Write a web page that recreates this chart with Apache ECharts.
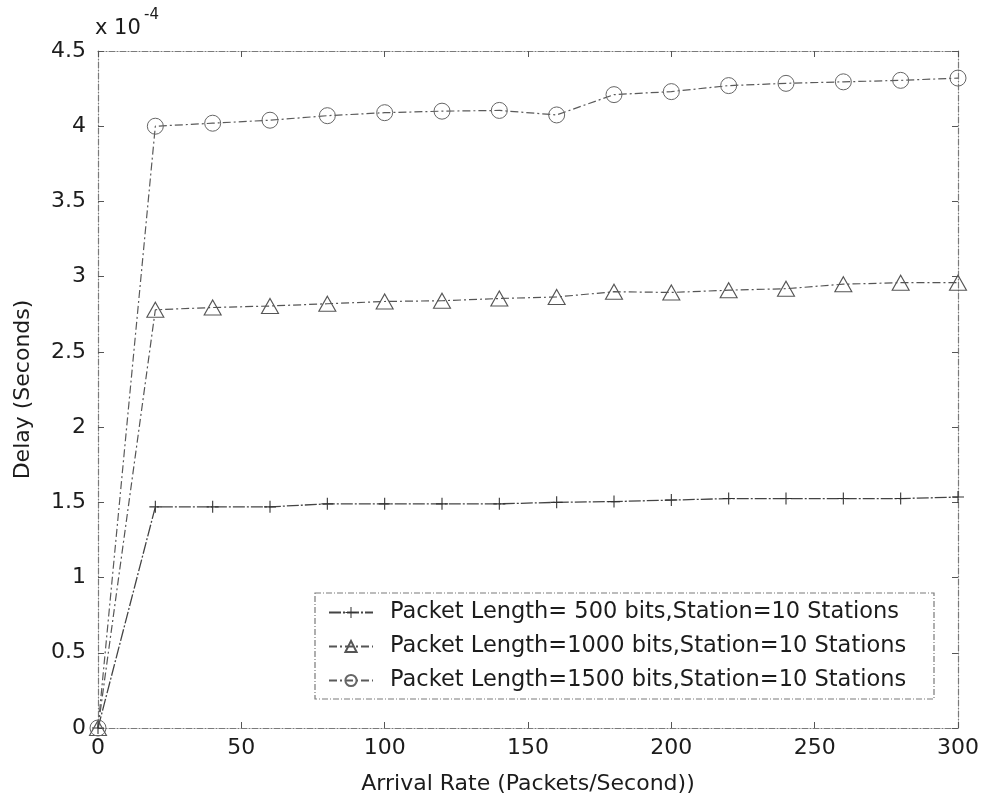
<!DOCTYPE html>
<html>
<head>
<meta charset="utf-8">
<script src="https://cdn.jsdelivr.net/npm/echarts@6/dist/echarts.min.js"></script>
<style>
  html, body { margin: 0; padding: 0; background: #fff; }
  #chart { width: 987px; height: 797px; }
</style>
</head>
<body>
<div id="chart"></div>
<script>
// Arrival rate (packets/second)
const arrivalRate = [0, 20, 40, 60, 80, 100, 120, 140, 160, 180, 200, 220, 240, 260, 280, 300];

// Delay in units of 1e-4 seconds
const delay500 = [0, 1.47, 1.47, 1.47, 1.49, 1.49, 1.49, 1.49, 1.50, 1.505, 1.515, 1.525, 1.525, 1.525, 1.525, 1.535];
const delay1000 = [0, 2.78, 2.795, 2.805, 2.82, 2.835, 2.84, 2.855, 2.865, 2.90, 2.895, 2.91, 2.92, 2.95, 2.96, 2.96];
const delay1500 = [0, 4.00, 4.02, 4.04, 4.07, 4.09, 4.10, 4.105, 4.075, 4.21, 4.23, 4.27, 4.285, 4.295, 4.305, 4.32];

const seriesNames = [
  'Packet Length= 500 bits,Station=10 Stations',
  'Packet Length=1000 bits,Station=10 Stations',
  'Packet Length=1500 bits,Station=10 Stations'
];

const xTicks = { min: 0, max: 300, interval: 50 };
const yTicks = { min: 0, max: 4.5, interval: 0.5 };

const FONT = '"DejaVu Sans", "Liberation Sans", Arial, sans-serif';
const INK = '#1c1c1c';
const FRAME = '#7a7a7a';

const pairs = ys => arrivalRate.map((x, i) => [x, ys[i]]);

const frameLine = { show: true, onZero: false, lineStyle: { color: FRAME, width: 1.2, type: [6, 2, 1, 2] } };
const innerTick = { show: true, inside: true, length: 6, lineStyle: { color: '#555', width: 1 } };
const tickLabel = { fontSize: 22, color: INK, fontFamily: FONT };

const chart = echarts.init(document.getElementById('chart'), null, { renderer: 'canvas' });

chart.setOption({
  animation: false,
  backgroundColor: '#ffffff',
  grid: { left: 98, right: 29, top: 51, bottom: 69, containLabel: false, outerBoundsMode: 'none' },
  xAxis: [
    {
      type: 'value', ...xTicks, position: 'bottom',
      axisLine: frameLine, axisTick: innerTick,
      axisLabel: { ...tickLabel, margin: 9 },
      splitLine: { show: false },
      name: 'Arrival Rate (Packets/Second))', nameLocation: 'middle', nameGap: 45,
      nameTextStyle: { fontSize: 22, color: INK, fontFamily: FONT }
    },
    {
      type: 'value', ...xTicks, position: 'top',
      axisLine: frameLine, axisTick: innerTick,
      axisLabel: { show: false }, splitLine: { show: false }
    }
  ],
  yAxis: [
    {
      type: 'value', ...yTicks, position: 'left',
      axisLine: frameLine, axisTick: innerTick,
      axisLabel: { ...tickLabel, margin: 12 },
      splitLine: { show: false },
      name: 'Delay (Seconds)', nameLocation: 'middle', nameGap: 64, nameRotate: 90,
      nameTextStyle: { fontSize: 22, color: INK, fontFamily: FONT }
    },
    {
      type: 'value', ...yTicks, position: 'right',
      axisLine: frameLine, axisTick: innerTick,
      axisLabel: { show: false }, splitLine: { show: false }
    }
  ],
  legend: {
    orient: 'vertical',
    left: 328, top: 601,
    itemWidth: 44, itemHeight: 14, itemGap: 11,
    padding: 0,
    textStyle: { fontSize: 22.5, color: INK, fontFamily: FONT, padding: [0, 0, 0, 12] },
    data: seriesNames,
    z: 5
  },
  graphic: [
    {
      type: 'rect', z: 3,
      shape: { x: 315, y: 593, width: 619, height: 106 },
      style: { fill: '#ffffff', stroke: FRAME, lineWidth: 1.2, lineDash: [6, 2, 1, 2] }
    },
    {
      type: 'text', left: 95, top: 18,
      style: { text: 'x 10', fill: INK, font: '21px ' + FONT }
    },
    {
      type: 'text', left: 144, top: 8,
      style: { text: '-4', fill: INK, font: '15px ' + FONT }
    }
  ],
  series: [
    {
      name: seriesNames[0], type: 'line', data: pairs(delay500),
      symbol: 'path://M5,0L6,0L6,5L11,5L11,6L6,6L6,11L5,11L5,6L0,6L0,5L5,5Z',
      symbolSize: 12, showAllSymbol: true,
      itemStyle: { color: '#333' },
      lineStyle: { color: '#444', width: 1.3, type: [12, 2, 2, 2] }
    },
    {
      name: seriesNames[1], type: 'line', data: pairs(delay1000),
      symbol: 'triangle', symbolSize: [17, 15], showAllSymbol: true,
      itemStyle: { color: 'rgba(255,255,255,0)', borderColor: '#555', borderWidth: 1.1 },
      lineStyle: { color: '#555', width: 1.2, type: [8, 3, 2, 3] }
    },
    {
      name: seriesNames[2], type: 'line', data: pairs(delay1500),
      symbol: 'circle', symbolSize: 16, showAllSymbol: true,
      itemStyle: { color: 'rgba(255,255,255,0)', borderColor: '#666', borderWidth: 1 },
      lineStyle: { color: '#5a5a5a', width: 1.2, type: [8, 3, 2, 3] }
    }
  ]
});
</script>
</body>
</html>
